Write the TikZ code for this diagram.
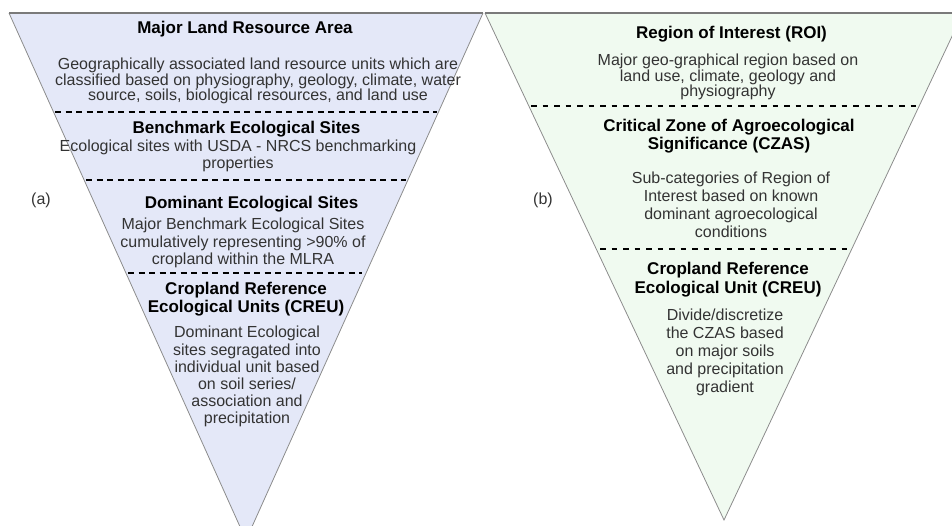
\documentclass[tikz,border=0pt]{standalone}
\usepackage{fontspec}
\setmainfont{Liberation Sans}
\usepackage{xcolor}
\definecolor{lavender}{HTML}{E4E8F8}
\definecolor{mint}{HTML}{F0FAF0}
\definecolor{edgegray}{HTML}{8C8C8C}
\definecolor{rimgray}{HTML}{7A7A7A}
\definecolor{txtgray}{HTML}{333333}

\begin{document}
\begin{tikzpicture}[x=1pt, y=-1pt,
    head/.style={anchor=north, inner sep=0pt, align=center, text=black,
        font=\bfseries\fontsize{17}{#1}\selectfont},
    head/.default=18,
    body/.style={anchor=north, inner sep=0pt, align=center, text=txtgray,
        font=\fontsize{16}{#1}\selectfont},
    body/.default=17.5,
    tag/.style={inner sep=0pt, text=txtgray, font=\fontsize{16}{18}\selectfont},
    funnel/.style={draw=edgegray, line width=0.8pt},
    rim/.style={draw=rimgray, line width=1.6pt},
    cut/.style={line width=1.8pt, dash pattern=on 6pt off 4.5pt}]
    \useasboundingbox (0,0) rectangle (952,525);
    \clip (0,0) rectangle (952,525);

    % (a) funnel
    \coordinate (lTL) at (9,13);
    \coordinate (lTR) at (483,13);
    \coordinate (lTip) at (246,540);
    \fill[lavender] (lTL) -- (lTR) -- (lTip) -- cycle;
    \draw[funnel] (lTL) -- (lTip) -- (lTR);
    \draw[rim] (lTL) -- (lTR);
    \draw[cut] (55,112) -- (437,112);
    \draw[cut] (86,180) -- (406,180);
    \draw[cut] (128,273) -- (362,273);

    % (b) funnel
    \coordinate (rTL) at (485,13);
    \coordinate (rTR) at (963,13);
    \coordinate (rTip) at (724,520);
    \fill[mint] (rTL) -- (rTR) -- (rTip) -- cycle;
    \draw[funnel] (rTL) -- (rTip) -- (rTR);
    \draw[rim] (rTL) -- (rTR);
    \draw[cut, dash pattern=on 5.5pt off 6pt] (531,106) -- (917,106);
    \draw[cut, dash pattern=on 5.5pt off 6pt] (600,249) -- (849,249);

    % left texts
    \node[head] (mlra) at (245,20.5) {Major Land Resource Area};
    \node[body=15.5] (mlraTxt) at (258,58) {Geographically associated land resource units which are\\
        classified based on physiography, geology, climate, water\\
        source, soils, biological resources, and land use};
    \node[head] (bes) at (246.5,120.5) {Benchmark Ecological Sites};
    \node[body=17] (besTxt) at (238,140) {Ecological sites with USDA - NRCS benchmarking\\properties};
    \node[head] (des) at (251.5,195.5) {Dominant Ecological Sites};
    \node[body] (desTxt) at (243,218) {Major Benchmark Ecological Sites\\
        cumulatively representing >90\% of\\cropland within the MLRA};
    \node[head] (creuL) at (246,281.5) {Cropland Reference\\Ecological Units (CREU)};
    \node[body=17.2] (creuLTxt) at (247,326) {Dominant Ecological\\sites segragated into\\
        individual unit based\\on soil series/\\association and\\precipitation};
    \node[tag] (a) at (41,200) {(a)};

    % right texts
    \node[head] (roi) at (731.5,25.5) {Region of Interest (ROI)};
    \node[body=15.5] (roiTxt) at (728,54) {Major geo-graphical region based on\\
        land use, climate, geology and\\physiography};
    \node[head] (czas) at (729,119) {Critical Zone of Agroecological\\Significance (CZAS)};
    \node[body=18] (czasTxt) at (731,172) {Sub-categories of Region of\\Interest based on known\\
        dominant agroecological\\conditions};
    \node[head=18.5] (creuR) at (728,262) {Cropland Reference\\Ecological Unit (CREU)};
    \node[body=18] (creuRTxt) at (725,309) {Divide/discretize\\the CZAS based\\
        on major soils\\and precipitation\\gradient};
    \node[tag] (b) at (543,200) {(b)};
\end{tikzpicture}
\end{document}
